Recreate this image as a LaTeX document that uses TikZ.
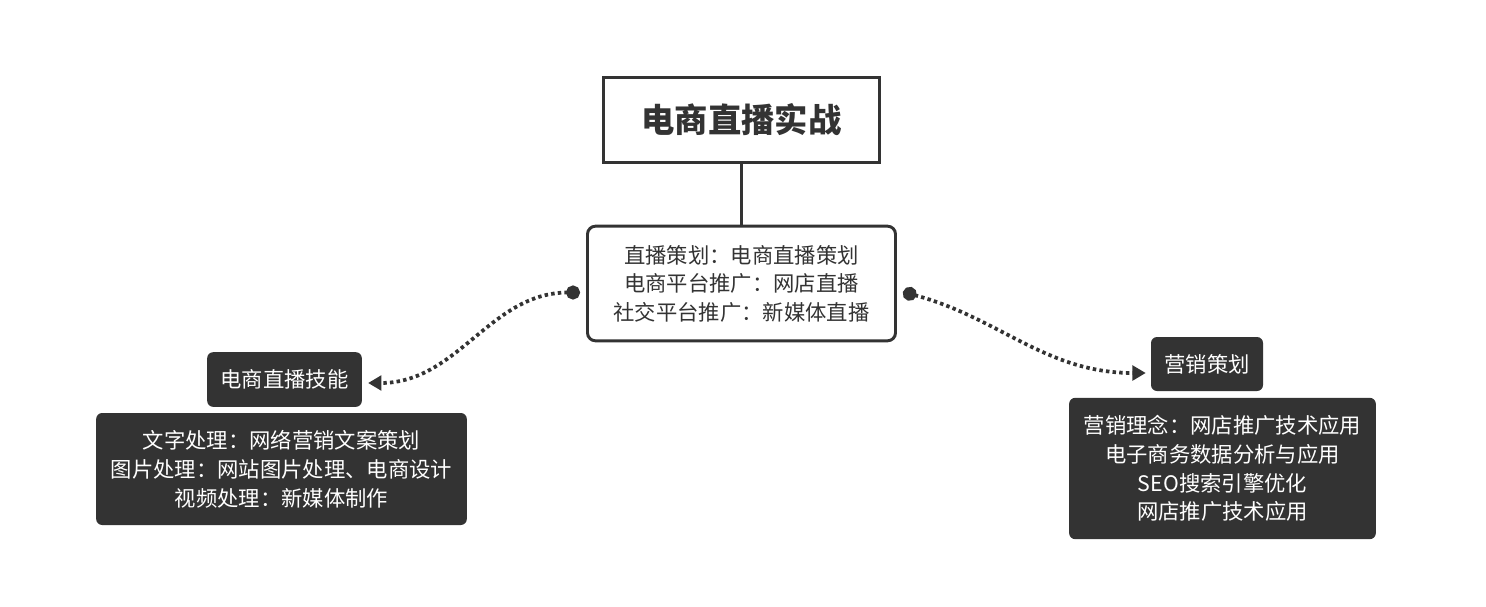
\documentclass[tikz,border=0pt]{standalone}
\usepackage{fontspec}
\setmainfont{Noto Sans CJK SC}
\usetikzlibrary{arrows.meta}
\definecolor{zbInk}{HTML}{333333}
\tikzset{
  zb title/.style={draw=zbInk, line width=2.3pt, fill=white, minimum width=207pt, minimum height=64pt, font=\fontsize{25}{30}\selectfont\bfseries, text=zbInk},
  zb topic/.style={draw=zbInk, line width=2.2pt, rounded corners=6pt, fill=white, minimum width=231pt, minimum height=86pt, align=center, font=\fontsize{16}{21.4}\selectfont, text=zbInk},
  zb tag/.style={fill=zbInk, rounded corners=4.5pt, text=white, align=center, font=\fontsize{16}{21.6}\selectfont},
  zb stem/.style={draw=zbInk, line width=2.3pt},
  zb link/.style={draw=zbInk, line width=2.8pt, dash pattern=on 2.6pt off 2.4pt, {Circle[length=10.5pt]}-{Triangle[length=10pt,width=11pt]}},
}
\begin{document}
\begin{tikzpicture}[x=0.75pt, y=-0.75pt]
  \useasboundingbox (0,0) rectangle (1486,607);

  % Root and the topic box below it
  \node[zb title] (root) at (741.5,120) {电商直播实战};
  \node[zb topic] (topic) at (741.5,283.5) {直播策划：电商直播策划\\电商平台推广：网店直播\\社交平台推广：新媒体直播};
  \draw[zb stem] (root) -- (topic);

  % Left branch
  \node[zb tag, minimum width=116pt, minimum height=41pt] (skill) at (284.5,379.5) {电商直播技能};
  \node[zb tag, minimum width=278pt, minimum height=84pt] (skilltext) at (281.5,469) {文字处理：网络营销文案策划\\图片处理：网站图片处理、电商设计\\视频处理：新媒体制作};

  % Right branch
  \node[zb tag, minimum width=84pt, minimum height=40.5pt] (plan) at (1207,364) {营销策划};
  \node[zb tag, minimum width=230pt, minimum height=106pt] (plantext) at (1222.5,468.5) {营销理念：网店推广技术应用\\电子商务数据分析与应用\\SEO搜索引擎优化\\网店推广技术应用};

  % Dotted links with a dot at the topic side
  \coordinate (ldot) at ([shift={(-6,9)}]topic.west);
  \coordinate (rdot) at ([shift={(6,8.5)}]topic.east);
  \draw[zb link] (ldot) to[out=180, in=0] ([shift={(6,3.5)}]skill.east);
  \draw[zb link] (rdot) to[out=-15, in=180] ([shift={(-5,9)}]plan.west);
\end{tikzpicture}
\end{document}
